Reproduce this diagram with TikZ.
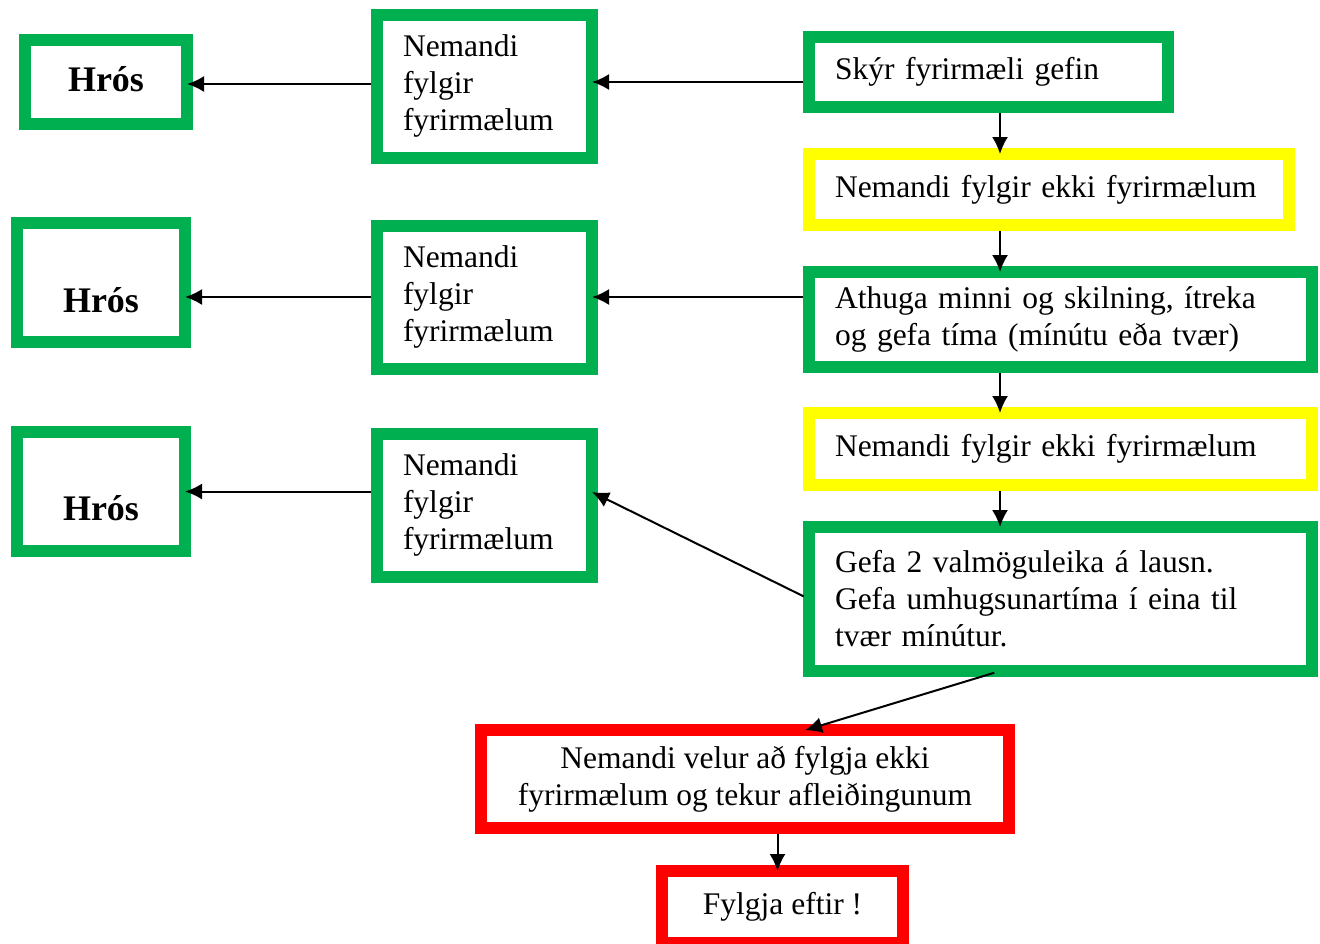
\documentclass[tikz,border=0pt]{standalone}
\usepackage{fontspec}
\setmainfont{Liberation Serif}
\usetikzlibrary{arrows.meta}
\definecolor{grn}{HTML}{00B050}
\definecolor{ylw}{HTML}{FFFF00}
\definecolor{rd}{HTML}{FF0000}
\tikzset{>={Latex[width=8pt,length=8.5pt]}}
\tikzset{
	kassi/.style={draw=grn, line width=6pt, inner sep=0pt, outer sep=0pt, font=\fontsize{15.75}{18.5}\selectfont},
	vinstri/.style={kassi, align=left, inner xsep=13pt},
	hros/.style={kassi, align=center, font=\fontsize{18}{20}\selectfont\bfseries},
	rautt/.style={kassi, draw=rd, align=center},
	pil/.style={->, line width=1pt, shorten <=3pt}
}

\begin{document}
\begin{tikzpicture}[x=0.5pt,y=-0.5pt]
			\useasboundingbox (0,0) rectangle (1320,943);
			% hægri dálkur
			\node[vinstri, text width=153.5pt, minimum height=35pt] (skyr) at (988.5,72) {Skýr fyrirmæli gefin};
			\node[vinstri, draw=ylw, text width=214pt, minimum height=35.5pt] (ekki1) at (1049,189.5) {\mbox{Nemandi fylgir ekki fyrirmælum}};
			\node[vinstri, text width=225.5pt, minimum height=47.5pt] (athuga) at (1060.5,319.5) {Athuga minni og skilning, ítreka\\og gefa tíma (mínútu eða tvær)};
			\node[vinstri, draw=ylw, text width=225.5pt, minimum height=36pt] (ekki2) at (1060.5,449) {Nemandi fylgir ekki fyrirmælum};
			\node[vinstri, text width=225.5pt, minimum height=72pt] (gefa) at (1060.5,599) {Gefa 2 valmöguleika á lausn.\\Gefa umhugsunartíma í eina til\\tvær mínútur.};
			
			% miðja
			\node[vinstri, text width=81.5pt, minimum height=71.5pt] (nem1) at (484.5,86) {Nemandi\\fylgir\\fyrirmælum};
			\node[vinstri, text width=81.5pt, minimum height=71.5pt] (nem2) at (484.5,297) {Nemandi\\fylgir\\fyrirmælum};
			\node[vinstri, text width=81.5pt, minimum height=71.5pt] (nem3) at (484.5,505) {Nemandi\\fylgir\\fyrirmælum};
			
			% vinstri
			\node[hros, minimum width=81pt, minimum height=42pt, text height=14pt, text depth=5pt] (hros1) at (106,82) {Hrós};
			\node[hros, minimum width=84pt, minimum height=59.5pt, text height=36pt, text depth=6.5pt] (hros2) at (101,282.5) {Hrós};
			\node[hros, minimum width=84pt, minimum height=59.5pt, text height=35pt, text depth=6.5pt] (hros3) at (101,491.5) {Hrós};
			
			% neðst
			\node[rautt, minimum width=264pt, minimum height=48.75pt] (velur) at (745,779) {Nemandi velur að fylgja ekki\\fyrirmælum og tekur afleiðingunum};
			\node[rautt, minimum width=120.5pt, minimum height=36pt] (fylgja) at (782.5,907) {Fylgja eftir !};
			
			\coordinate (col) at (1000,0);
			\draw[pil] (skyr.south -| col) -- (ekki1.north -| col);
			\draw[pil] (ekki1.south -| col) -- (athuga.north -| col);
			\draw[pil] (athuga.south -| col) -- (ekki2.north -| col);
			\draw[pil] (ekki2.south -| col) -- (gefa.north -| col);
			\draw[pil] ([yshift=-5pt]skyr.west) -- ([yshift=-5pt]skyr.west -| nem1.east);
			\draw[pil] ([yshift=1pt]nem1.west) -- ([yshift=1pt]nem1.west -| hros1.east);
			\draw[pil] (athuga.west |- nem2.east) -- (nem2.east);
			\draw[pil] (nem2.west) -- (nem2.west -| hros2.east);
			\draw[pil] (gefa.west) -- ([yshift=6.5pt]nem3.east);
			\draw[pil] (hros3.east -| nem3.west) -- (hros3.east);
			\draw[pil] (gefa.south -| col) -- ([xshift=30pt]velur.north);
			\draw[pil] ([xshift=-2.5pt]fylgja.north |- velur.south) -- ([xshift=-2.5pt]fylgja.north);
\end{tikzpicture}
\end{document}
